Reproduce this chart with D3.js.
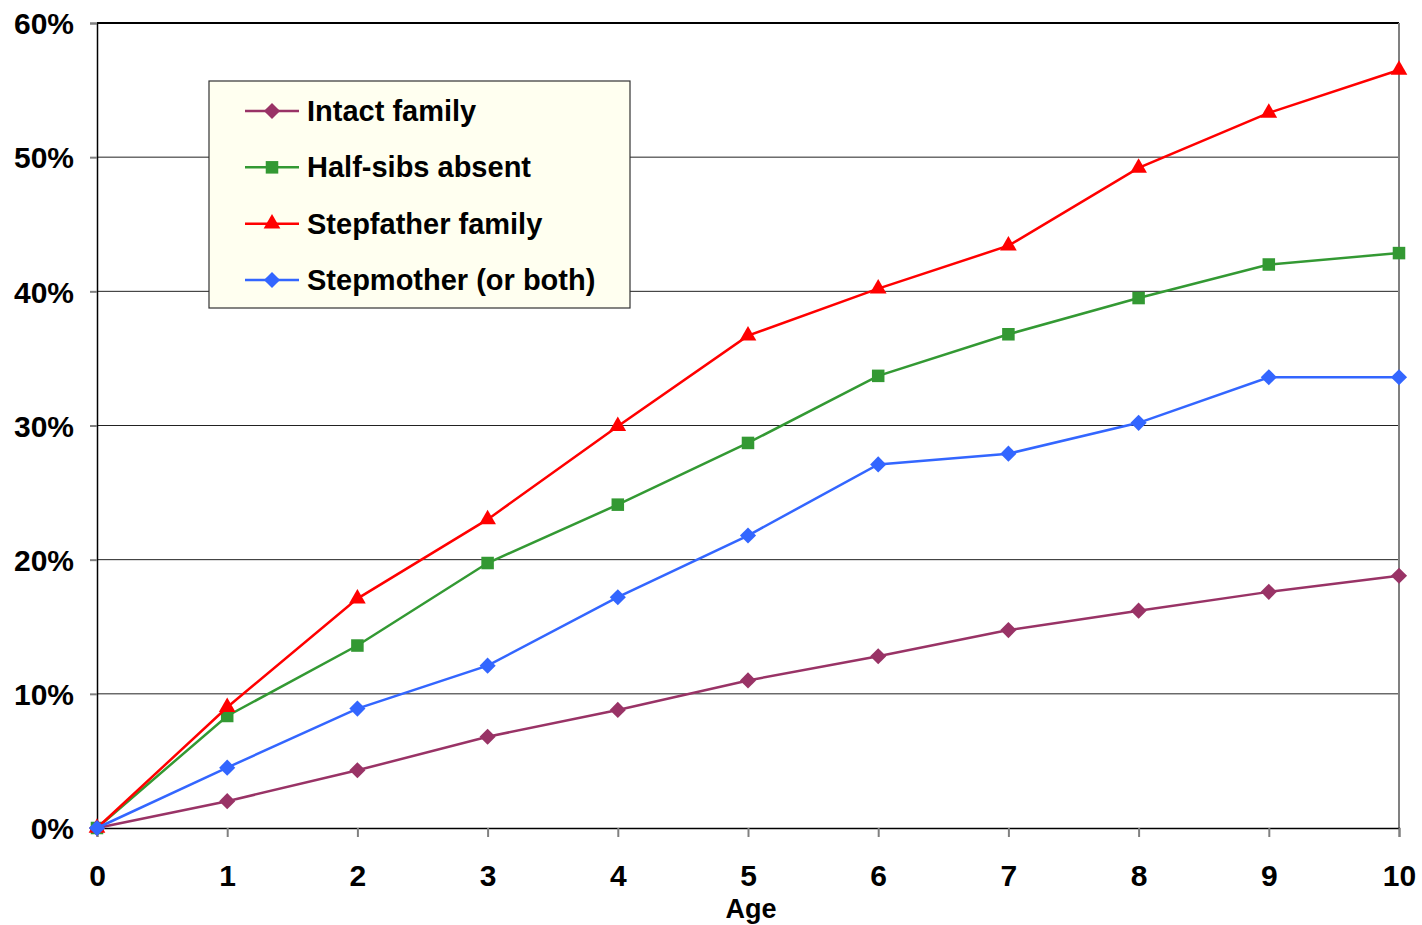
<!DOCTYPE html>
<html><head><meta charset="utf-8">
<script src="https://cdn.jsdelivr.net/npm/d3@7"></script>
<style>body{margin:0;background:#fff}text{font-family:"Liberation Sans",Arial,sans-serif;font-weight:bold}</style>
</head><body><svg id="c" width="1422" height="925"></svg>
<script>
const ages = [0,1,2,3,4,5,6,7,8,9,10];
const intact = [0,2.0,4.3,6.8,8.8,11.0,12.8,14.75,16.2,17.6,18.8];
const halfSibsAbsent = [0,8.35,13.6,19.75,24.1,28.7,33.7,36.8,39.5,42.0,42.85];
const stepfather = [0,9.0,17.1,23.0,29.95,36.7,40.2,43.4,49.2,53.3,56.5];
const stepmother = [0,4.5,8.9,12.1,17.2,21.8,27.1,27.9,30.2,33.6,33.6];
const seriesNames = ["Intact family","Half-sibs absent","Stepfather family","Stepmother (or both)"];
const yTicks = [0,10,20,30,40,50,60];

const series = [
  {name:seriesNames[0], vals:intact, color:"#993366", sym:"diamond"},
  {name:seriesNames[1], vals:halfSibsAbsent, color:"#339933", sym:"square"},
  {name:seriesNames[2], vals:stepfather, color:"#FF0000", sym:"triangle"},
  {name:seriesNames[3], vals:stepmother, color:"#3366FF", sym:"diamond"}
];

const svg = d3.select("#c");
const x = d3.scaleLinear().domain([0,10]).range([97,1399]);
const y = d3.scaleLinear().domain([0,60]).range([828,23]);
const FONT = "Liberation Sans, Arial, sans-serif";

svg.append("g").selectAll("line").data(yTicks.filter(d=>d>0&&d<60)).join("line")
  .attr("x1",97).attr("x2",1399).attr("y1",d=>y(d)).attr("y2",d=>y(d))
  .attr("stroke","#222").attr("stroke-width",1);
svg.append("line").attr("x1",97).attr("x2",1399).attr("y1",y(60)).attr("y2",y(60)).attr("stroke","#000").attr("stroke-width",2);
svg.append("line").attr("x1",1399).attr("x2",1399).attr("y1",y(60)).attr("y2",y(0)).attr("stroke","#808080").attr("stroke-width",2);

const ya = svg.append("g").attr("transform","translate(97,0)")
  .call(d3.axisLeft(y).tickValues(yTicks).tickFormat(d=>d+"%").tickSize(7).tickPadding(16));
ya.select(".domain").attr("stroke","#000").attr("stroke-width",1.5);
ya.selectAll(".tick line").attr("stroke","#808080").attr("stroke-width",2);
ya.selectAll("text").style("font-size","30px").attr("fill","#000").style("font-family",FONT).style("font-weight","bold").attr("dy","0.36em").attr("x",-23);

const xa = svg.append("g").attr("transform","translate(0,828)")
  .call(d3.axisBottom(x).tickValues(ages).tickFormat(d3.format("d")).tickSize(9).tickPadding(28));
xa.select(".domain").attr("stroke","#000").attr("stroke-width",1.5);
xa.selectAll(".tick line").attr("stroke","#808080").attr("stroke-width",2);
xa.selectAll("text").style("font-size","30px").attr("fill","#000").style("font-family",FONT).style("font-weight","bold");

svg.append("text").attr("x",751).attr("y",918).attr("text-anchor","middle").style("font-size","27px").text("Age");

const symType = {diamond:d3.symbolSquare, square:d3.symbolSquare2, triangle:d3.symbolTriangle2};
const symSize = {diamond:130, square:200, triangle:200};
const line = d3.line().x((d,i)=>x(ages[i])).y(d=>y(d));

series.forEach(s=>{
  const g = svg.append("g");
  g.append("path").attr("d",line(s.vals)).attr("fill","none").attr("stroke",s.color).attr("stroke-width",2.5);
  g.selectAll("path.m").data(s.vals).join("path").attr("class","m")
    .attr("d",d3.symbol().type(symType[s.sym]).size(symSize[s.sym])())
    .attr("fill",s.color)
    .attr("transform",(d,i)=>`translate(${x(ages[i])},${y(d)})` + (s.sym==="diamond"?" rotate(45)":""));
});

const lg = svg.append("g");
lg.append("rect").attr("x",209).attr("y",81).attr("width",421).attr("height",227).attr("fill","#FFFFF0").attr("stroke","#333").attr("stroke-width",1.2);
const ly = d3.scalePoint().domain(seriesNames).range([111,280]);
series.forEach(s=>{
  const yy = ly(s.name);
  lg.append("line").attr("x1",245).attr("x2",299).attr("y1",yy).attr("y2",yy).attr("stroke",s.color).attr("stroke-width",2.5);
  lg.append("path").attr("d",d3.symbol().type(symType[s.sym]).size(symSize[s.sym])())
    .attr("transform",`translate(272,${yy})`+(s.sym==="diamond"?" rotate(45)":"")).attr("fill",s.color);
  lg.append("text").attr("x",307).attr("y",yy+10).style("font-size","29px").attr("fill","#000").text(s.name);
});
</script></body></html>
